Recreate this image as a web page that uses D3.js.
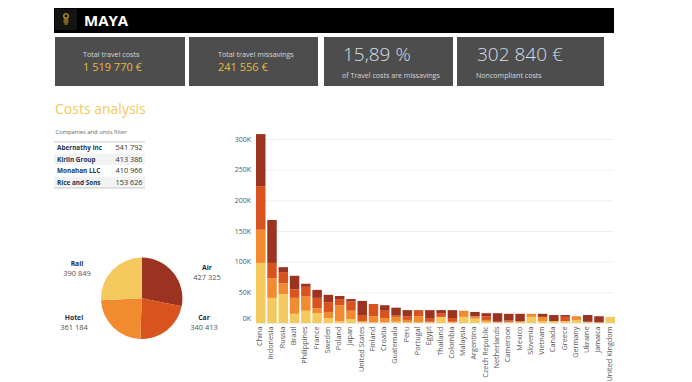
<!DOCTYPE html>
<html><head><meta charset="utf-8">
<script src="https://cdn.jsdelivr.net/npm/d3@7"></script>
<style>
html,body{margin:0;padding:0;background:#fff;overflow:hidden}
text{font-family:"Open Sans",sans-serif}
</style></head><body>
<svg id="c" width="692" height="382"></svg>
<script>
const countries=["China","Indonesia","Russia","Brazil","Philippines","France","Sweden","Poland","Japan","United States","Finland","Croatia","Guatemala","Peru","Portugal","Egypt","Thailand","Colombia","Malaysia","Argentina","Czech Republic","Netherlands","Cameroon","Mexico","Slovenia","Vietnam","Canada","Greece","Germany","Ukraine","Jamaica","United Kingdom"];
const rail=[98,41,47,15,20,16,8,3,6,2,1,1,2,1,1,1,10,1,10,7,2,1,1,1,10,3,3,3,5,2,1,10];
const hotel=[54,32,18,26,24,8,10,26,14,1,10,7,8,4,10,1,0,1,10,4,3,1,1,2,5,7,0,0,6,0,0,0];
const car=[71,25,18,14,15,17,16,10,15,10,20,12,2,6,10,6,6,6,0,0,6,0,2,0,0,0,0,7,0,0,0,0];
const air=[85,70,8,22,5,13,12,5,4,23,0,9,13,10,0,13,5,13,0,7,5,14,11,12,0,5,10,3,0,11,10,0];
const modes=["Rail","Hotel","Car","Air"];
const modeColors=["#f4c95d","#f28b30","#d9531e","#9c3320"];
const yTicks=[0,50,100,150,200,250,300];
const pieNames=["Air","Car","Hotel","Rail"];
const pieValues=[427325,340413,361184,390849];
const pieLabels=["427 325","340 413","361 184","390 849"];
const pieColors=["#9c3320","#d9531e","#f28b30","#f4c95d"];
const companies=["Abernathy Inc","Kirlin Group","Monahan LLC","Rice and Sons"];
const companyValues=["541 792","413 386","410 966","153 626"];
const kpiBig=["1 519 770 €","241 556 €","15,89 %","302 840 €"];
const kpiSmall=["Total travel costs","Total travel missavings","of Travel costs are missavings","Noncompliant costs"];

const svg=d3.select("#c");
// header
svg.append("rect").attr("x",54).attr("y",8).attr("width",560).attr("height",25).attr("fill","#000");
svg.append("rect").attr("x",55).attr("y",9).attr("width",22).attr("height",21).attr("fill","#141414");
const logo=svg.append("g").attr("stroke","#d9a520").attr("fill","none");
logo.append("circle").attr("cx",66).attr("cy",16).attr("r",2.3).attr("stroke-width",1.1);
[[63.5,68.5,20],[63.5,68.5,22],[64.5,67.5,24]].forEach(d=>logo.append("line").attr("x1",d[0]).attr("x2",d[1]).attr("y1",d[2]).attr("y2",d[2]).attr("stroke-width",1.1));
svg.append("text").attr("x",84).attr("y",26).attr("fill","#fff").attr("font-size",15).attr("font-weight",700).text("MAYA");

// KPI boxes
const boxes=[[55,130],[189,129],[324,129],[457,147]];
boxes.forEach(b=>svg.append("rect").attr("x",b[0]).attr("y",37).attr("width",b[1]).attr("height",49).attr("fill","#4d4d4d"));
svg.append("text").attr("x",83).attr("y",56.5).attr("fill","#d8d8d8").attr("font-size",7.2).text(kpiSmall[0]);
svg.append("text").attr("x",83).attr("y",70.5).attr("fill","#e8b93c").attr("font-size",11).text(kpiBig[0]);
svg.append("text").attr("x",218).attr("y",56.5).attr("fill","#d8d8d8").attr("font-size",7.2).text(kpiSmall[1]);
svg.append("text").attr("x",218).attr("y",70.5).attr("fill","#e8b93c").attr("font-size",11).text(kpiBig[1]);
svg.append("text").attr("x",343).attr("y",61).attr("fill","#d6dfe8").attr("font-size",19).attr("font-weight",300).text(kpiBig[2]);
svg.append("text").attr("x",342).attr("y",77.5).attr("fill","#d8d8d8").attr("font-size",7.1).text(kpiSmall[2]);
svg.append("text").attr("x",477).attr("y",61).attr("fill","#d6dfe8").attr("font-size",19).attr("font-weight",300).text(kpiBig[3]);
svg.append("text").attr("x",476).attr("y",77.5).attr("fill","#d8d8d8").attr("font-size",7.1).text(kpiSmall[3]);

svg.append("text").attr("x",55).attr("y",114).attr("fill","#f4c95d").attr("font-size",14).text("Costs analysis");
svg.append("text").attr("x",55.5).attr("y",134).attr("fill","#666").attr("font-size",5.8).text("Companies and units filter");

// table
companies.forEach((c,i)=>{
  const y=142+i*11.5;
  if(i%2===1) svg.append("rect").attr("x",54).attr("y",y).attr("width",91).attr("height",11.5).attr("fill","#f3f3f3");
  svg.append("text").attr("x",57).attr("y",y+8).attr("fill","#1d3557").attr("font-size",6.4).attr("font-weight",700).text(c);
  svg.append("text").attr("x",142.5).attr("y",y+8).attr("text-anchor","end").attr("fill","#333").attr("font-size",7.3).text(companyValues[i]);
});
[142,188].forEach(y=>svg.append("line").attr("x1",54).attr("x2",145).attr("y1",y).attr("y2",y).attr("stroke","#bbb").attr("stroke-width",.8));

// pie
const arc=d3.arc().innerRadius(0).outerRadius(40.7);
const pie=d3.pie().sort(null)(pieValues);
const gp=svg.append("g").attr("transform","translate(141.7,298.3)");
gp.selectAll("path").data(pie).join("path").attr("d",arc).attr("fill",(d,i)=>pieColors[i]);
const pos=[[207,269.5],[204,319.5],[74,319.5],[77,265.5]];
pieNames.forEach((n,i)=>{
  svg.append("text").attr("x",pos[i][0]).attr("y",pos[i][1]).attr("text-anchor","middle").attr("fill","#1f2d3d").attr("font-size",6.8).attr("font-weight",700).text(n);
  svg.append("text").attr("x",pos[i][0]).attr("y",pos[i][1]+10).attr("text-anchor","middle").attr("fill","#555").attr("font-size",7.5).text(pieLabels[i]);
});

// stacked bars
const x=d3.scaleBand().domain(countries).range([256,615]).paddingInner(.16).paddingOuter(0).align(0);
const y=d3.scaleLinear().domain([0,300]).range([323,139]);
const table=countries.map((c,i)=>({country:c,Rail:rail[i],Hotel:hotel[i],Car:car[i],Air:air[i]}));
const stack=d3.stack().keys(modes)(table);
const gy=svg.append("g").attr("transform","translate(256,0)").call(d3.axisLeft(y).tickValues(yTicks).tickSize(-358).tickPadding(5).tickFormat(d=>d+"K"));
gy.select(".domain").attr("stroke","#ececec");
gy.selectAll(".tick line").attr("stroke","#efefef");
gy.selectAll(".tick text").attr("fill","#555").attr("font-size",7).attr("dy",d=>d===0?"-2.5":".32em");
stack.forEach((s,k)=>{
  svg.append("g").selectAll("rect").data(s).join("rect")
    .attr("x",d=>x(d.data.country)).attr("width",x.bandwidth())
    .attr("y",d=>y(d[1])).attr("height",d=>y(d[0])-y(d[1])).attr("fill",modeColors[k]);
});
const gx=svg.append("g").attr("transform","translate(0,323)").call(d3.axisBottom(x).tickSize(0).tickPadding(0));
gx.select(".domain").attr("stroke","#ececec");
gx.selectAll(".tick text").attr("fill","#555").attr("font-size",7.3).attr("text-anchor","end")
  .attr("dy",0).attr("x",0).attr("y",0).attr("dominant-baseline","middle")
  .attr("transform","translate(-0.5,3.5) rotate(-90)");
</script>
</body></html>
